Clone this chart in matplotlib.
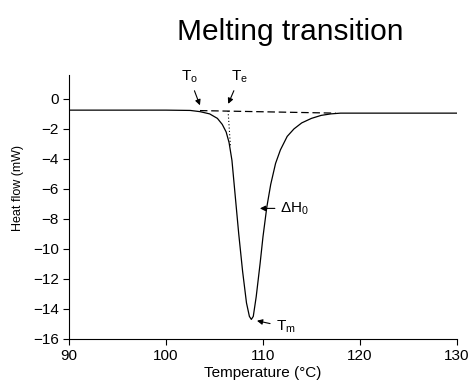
import matplotlib
matplotlib.use("Agg")
import matplotlib.pyplot as plt

plt.rcParams['font.family'] = ['Liberation Sans', 'DejaVu Sans']
plt.rcParams['mathtext.fontset'] = 'custom'
plt.rcParams['mathtext.rm'] = 'Liberation Sans'
plt.rcParams['mathtext.it'] = 'Liberation Sans'

# DSC melting curve
temperature = [90, 100, 102.5, 103.5, 104.5, 105.3, 105.8, 106.2, 106.5, 106.8,
               107.1, 107.5, 107.9, 108.3, 108.6, 108.8, 109.0, 109.3, 109.7,
               110.0, 110.4, 110.8, 111.3, 111.8, 112.5, 113.2, 114.0, 115.0,
               116.0, 117.0, 118.0, 120, 130]
heat_flow = [-0.75, -0.75, -0.77, -0.85, -1.0, -1.3, -1.7, -2.2, -2.9, -4.1,
             -6.2, -9.0, -11.5, -13.6, -14.5, -14.7, -14.5, -13.2, -11.0,
             -9.2, -7.2, -5.7, -4.3, -3.4, -2.5, -2.0, -1.6, -1.3,
             -1.1, -1.0, -0.95, -0.95, -0.95]

# interpolated baseline and onset tangent
baseline_t = [103.5, 117.5]
baseline_v = [-0.78, -0.95]
tangent_t = [106.4, 106.65]
tangent_v = [-0.8, -3.2]

xticks = [90, 100, 110, 120, 130]
yticks = [0, -2, -4, -6, -8, -10, -12, -14, -16]

fig = plt.figure(figsize=(4.7, 3.86), dpi=100)
ax = fig.add_axes([0.147, 0.122, 0.825, 0.684])

ax.plot(temperature, heat_flow, color='black', lw=0.9)
ax.plot(baseline_t, baseline_v, color='black', lw=0.9, dashes=(6, 3))
ax.plot(tangent_t, tangent_v, color='black', lw=0.8, dashes=(1, 2))

ax.set_xlim(90, 130)
ax.set_ylim(-16, 1.6)
ax.set_xticks(xticks)
ax.set_yticks(yticks)
ax.tick_params(labelsize=11, direction='out', length=4, width=0.8)
ax.spines['top'].set_visible(False)
ax.spines['right'].set_visible(False)
ax.spines['bottom'].set_bounds(90, 130)
ax.spines['left'].set_bounds(-16, 1.6)

ax.set_xlabel('Temperature (°C)', fontsize=11, labelpad=2)
ax.set_ylabel('Heat flow (mW)', fontsize=9, labelpad=2)
ax.yaxis.set_label_coords(-0.115, 0.57)

arrow = dict(arrowstyle='-|>', color='black', lw=0.8, mutation_scale=8)
ax.annotate('T$_{o}$', xy=(103.6, -0.6), xytext=(102.4, 0.9),
            ha='center', va='bottom', fontsize=11, arrowprops=arrow)
ax.annotate('T$_{e}$', xy=(106.3, -0.5), xytext=(107.6, 0.9),
            ha='center', va='bottom', fontsize=11, arrowprops=arrow)
ax.annotate('ΔH$_{0}$', xy=(109.4, -7.3), xytext=(111.8, -7.3),
            ha='left', va='center', fontsize=11, arrowprops=arrow)
ax.annotate('T$_{m}$', xy=(109.1, -14.75), xytext=(111.3, -15.2),
            ha='left', va='center', fontsize=11, arrowprops=arrow)

fig.text(0.617, 0.896, 'Melting transition', ha='center', va='baseline', fontsize=21.5)

fig.savefig('out.png', dpi=100)
